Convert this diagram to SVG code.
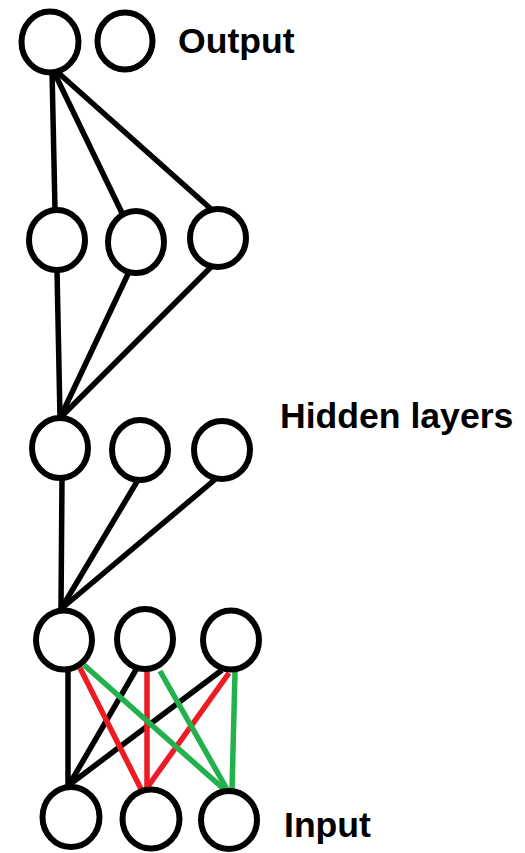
<svg xmlns="http://www.w3.org/2000/svg" width="525" height="853" viewBox="0 0 525 853">
  <style>
    .node { fill: #ffffff; stroke: #000000; stroke-width: 6; }
    .link { fill: none; stroke-width: 5.5; stroke-linecap: butt; }
    .k { stroke: #000000; }
    .r { stroke: #ed1c24; }
    .g { stroke: #22b14c; }
    .label { font-family: "Liberation Sans", Arial, sans-serif; font-weight: bold; font-size: 35.6px; fill: #000000; }
  </style>
  <rect width="525" height="853" fill="#ffffff"/>

  <!-- connections between layers -->
  <g id="connectors">
    <!-- output to first hidden layer -->
    <line class="link k" x1="52" y1="70" x2="55" y2="210"/>
    <line class="link k" x1="53" y1="70" x2="122" y2="213"/>
    <line class="link k" x1="54" y1="69" x2="211" y2="209"/>
    <!-- first hidden to second hidden layer -->
    <line class="link k" x1="57" y1="270" x2="60" y2="418"/>
    <line class="link k" x1="128" y1="274" x2="60" y2="418"/>
    <line class="link k" x1="211" y1="267" x2="60" y2="418"/>
    <!-- second hidden to third hidden layer -->
    <line class="link k" x1="62" y1="478" x2="61" y2="609"/>
    <line class="link k" x1="138" y1="480" x2="61" y2="609"/>
    <line class="link k" x1="218" y1="477" x2="61" y2="609"/>
    <!-- third hidden layer to input -->
    <line class="link k" x1="68" y1="667" x2="68" y2="786"/>
    <line class="link k" x1="137" y1="668" x2="69" y2="785"/>
    <line class="link k" x1="222" y1="670" x2="69" y2="785"/>
    <line class="link r" x1="80" y1="668" x2="143" y2="793"/>
    <line class="link r" x1="147" y1="668" x2="147" y2="792"/>
    <line class="link r" x1="229" y1="673" x2="144" y2="792"/>
    <line class="link g" x1="84" y1="665" x2="226" y2="791"/>
    <line class="link g" x1="160" y1="671" x2="228" y2="791"/>
    <line class="link g" x1="235" y1="672" x2="232" y2="791"/>
  </g>

  <!-- output layer -->
  <g id="out1"><ellipse class="node" cx="50" cy="42" rx="28.5" ry="30.5"/></g>
  <g id="out2"><ellipse class="node" cx="125" cy="41" rx="27.5" ry="28.5"/></g>

  <!-- hidden layer 1 -->
  <g id="h1a"><ellipse class="node" cx="57" cy="240" rx="28" ry="30"/></g>
  <g id="h1b"><ellipse class="node" cx="136" cy="242" rx="28" ry="31"/></g>
  <g id="h1c"><ellipse class="node" cx="218" cy="238" rx="28" ry="29"/></g>

  <!-- hidden layer 2 -->
  <g id="h2a"><ellipse class="node" cx="60" cy="448" rx="28" ry="30"/></g>
  <g id="h2b"><ellipse class="node" cx="140" cy="450" rx="28" ry="30"/></g>
  <g id="h2c"><ellipse class="node" cx="222" cy="450" rx="28" ry="29"/></g>

  <!-- hidden layer 3 -->
  <g id="h3a"><ellipse class="node" cx="64" cy="640" rx="28" ry="29.5"/></g>
  <g id="h3b"><ellipse class="node" cx="145" cy="639" rx="28" ry="30"/></g>
  <g id="h3c"><ellipse class="node" cx="231" cy="640" rx="28" ry="29.5"/></g>

  <!-- input layer -->
  <g id="in1"><ellipse class="node" cx="71" cy="817" rx="28.5" ry="30"/></g>
  <g id="in2"><ellipse class="node" cx="151" cy="819" rx="28.5" ry="29.5"/></g>
  <g id="in3"><ellipse class="node" cx="229" cy="820" rx="28" ry="29"/></g>

  <!-- layer labels -->
  <g id="labels">
    <text class="label" x="178" y="53">Output</text>
    <text class="label" x="280" y="428">Hidden layers</text>
    <text class="label" x="284" y="837">Input</text>
  </g>
</svg>
